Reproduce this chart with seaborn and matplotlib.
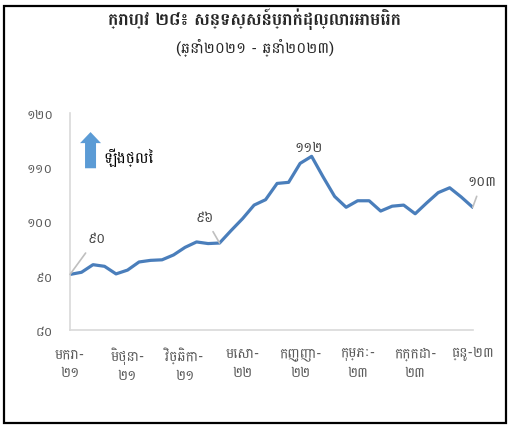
import matplotlib
matplotlib.use("Agg")
import matplotlib.pyplot as plt
from matplotlib.patches import FancyArrow, Rectangle
import numpy as np
import pandas as pd
import seaborn as sns

# US dollar index, monthly Jan-2021 .. Dec-2023
values = [90.2, 90.6, 92.0, 91.7, 90.3, 91.0, 92.5, 92.8, 92.9, 93.8, 95.2, 96.2,
          95.9, 96.0, 98.3, 100.5, 103.0, 104.0, 107.0, 107.2, 110.7, 112.0, 108.2, 104.6,
          102.6, 103.8, 103.8, 101.9, 102.8, 103.0, 101.4, 103.4, 105.3, 106.2, 104.5, 102.6]
tick_pos = [0, 5, 10, 15, 20, 25, 30, 35]
tick_labels = ["មករា-\n២១", "មិថុនា-\n២១", "វិច្ឆិកា-\n២១", "មេសា-\n២២",
               "កញ្ញា-\n២២", "កុម្ភៈ-\n២៣", "កក្កដា-\n២៣", "ធ្នូ-២៣"]
yticks = [80, 90, 100, 110, 120]
ytick_labels = ["៨០", "៩០", "១០០", "១១០", "១២០"]
# labelled points: index, text, offset in points
point_labels = [(0, "៩០", (19, 21)), (13, "៩៦", (-11, 14)),
                (21, "១១២", (-2, 2)), (35, "១០៣", (7, 14))]

title = "ក្រាហ្វ ២៨៖ សន្ទស្សន៍ប្រាក់ដុល្លារអាមេរិក"
subtitle = "(ឆ្នាំ២០២១ - ឆ្នាំ២០២៣)"

df = pd.DataFrame({"month": np.arange(len(values)), "index": values})

sns.set_style("white")
plt.rcParams["font.family"] = ["Battambang", "DejaVu Sans"]

fig = plt.figure(figsize=(5.1, 4.27), dpi=100)
ax = fig.add_axes([70 / 510, 96.3 / 427, 402.7 / 510, 216.7 / 427])

sns.lineplot(data=df, x="month", y="index", ax=ax, color="#4a7ebb", linewidth=2.3)

ax.set_xlim(0, len(values) - 1)
ax.set_ylim(80, 120)
ax.set_xticks(tick_pos)
ax.set_xticklabels(tick_labels, fontsize=10, linespacing=1.4)
ax.set_yticks(yticks)
ax.set_yticklabels(ytick_labels, fontsize=9.5)
ax.set_xlabel("")
ax.set_ylabel("")
for s in ["top", "right"]:
    ax.spines[s].set_visible(False)
for s in ["left", "bottom"]:
    ax.spines[s].set_color("#d9d9d9")
    ax.spines[s].set_linewidth(1.2)
ax.tick_params(axis="both", colors="#d9d9d9", length=5, width=1.2, labelcolor="#595959")
ax.tick_params(axis="y", pad=7)
ax.tick_params(axis="x", pad=7)

for i, txt, off in point_labels:
    arrow = None if i == 21 else dict(arrowstyle="-", color="#bfbfbf", lw=1.2, shrinkA=4, shrinkB=0)
    ax.annotate(txt, xy=(i, values[i]), xytext=off, textcoords="offset points",
                ha="center", va="bottom", fontsize=10, color="#404040", arrowprops=arrow)

# blue "rising" arrow icon with caption
ax.add_patch(FancyArrow(0.051, 0.745, 0, 0.116, width=0.0273, head_width=0.052,
                        head_length=0.051, length_includes_head=False,
                        transform=ax.transAxes, color="#5b9bd5", lw=0))
ax.text(0.082, 0.80, "ឡើងថ្លៃ", transform=ax.transAxes, fontsize=11,
        va="center", ha="left", color="#000000")

fig.text(0.5, 0.955, title, ha="center", va="center", fontsize=12.5, fontweight="bold")
fig.text(0.5, 0.888, subtitle, ha="center", va="center", fontsize=11)

fig.patches.append(Rectangle((4 / 510, 3 / 427), 502 / 510, 417 / 427, transform=fig.transFigure,
                             fill=False, edgecolor="black", linewidth=1.6))

fig.savefig("out.png", dpi=100)
